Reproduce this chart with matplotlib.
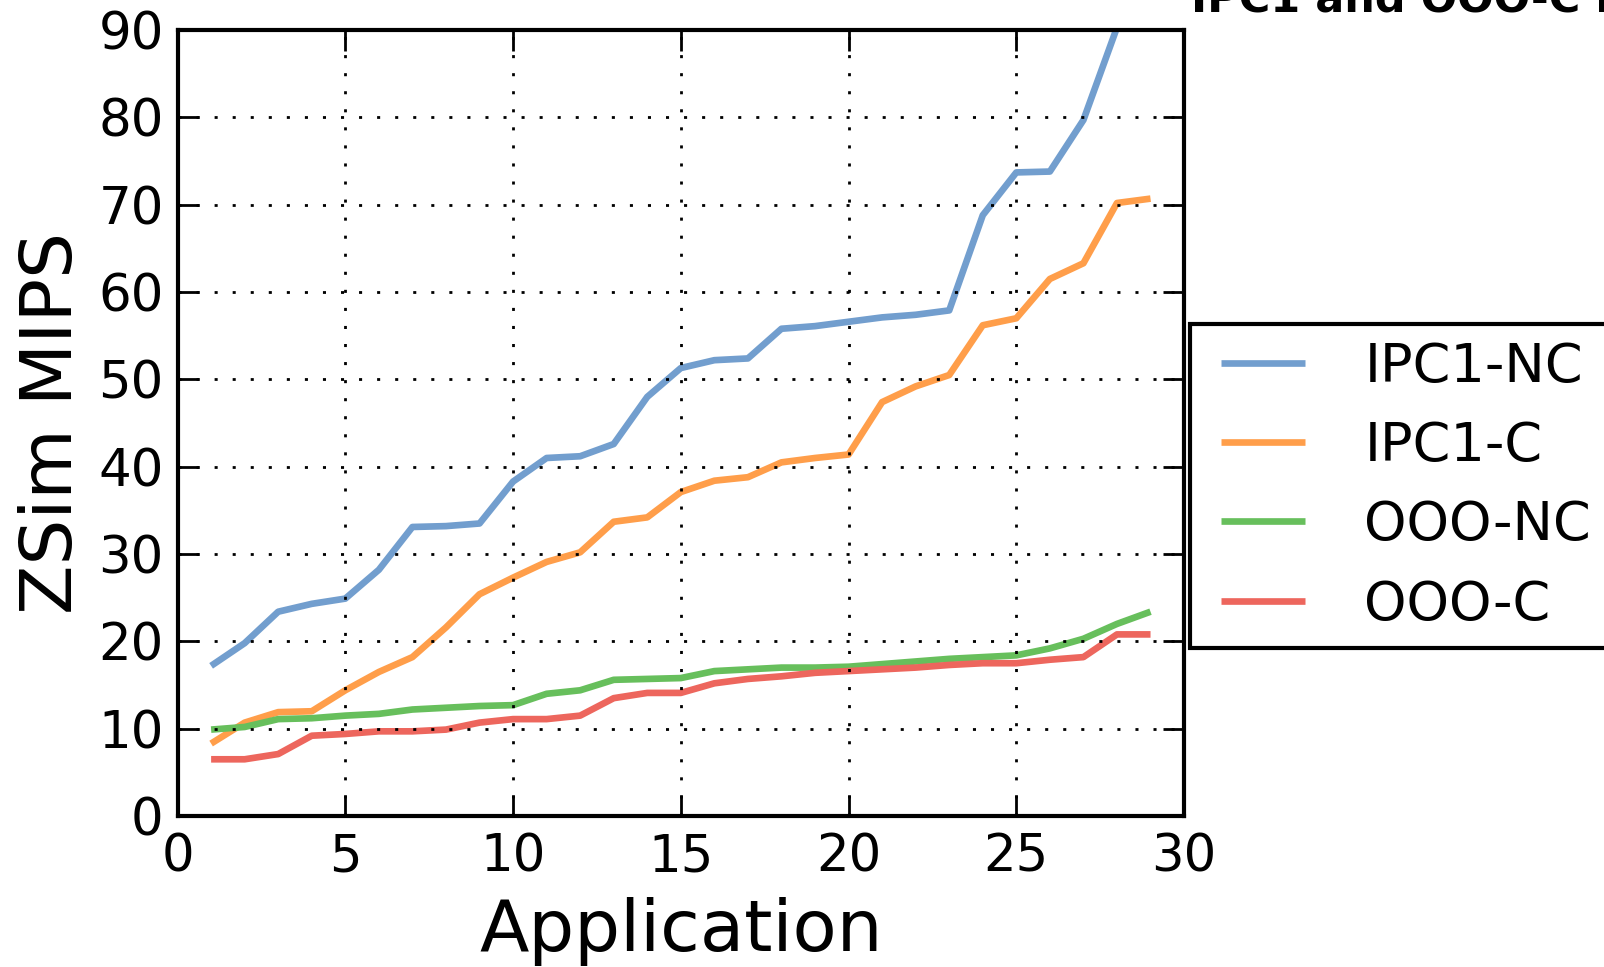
import matplotlib
matplotlib.use("Agg")
import matplotlib.pyplot as plt
from matplotlib.lines import Line2D
from matplotlib.legend_handler import HandlerLine2D

# Application index (sorted by MIPS)
apps = list(range(1, 30))

ipc1_nc = [17.2, 19.8, 23.4, 24.3, 24.9, 28.2, 33.1, 33.2, 33.5, 38.3,
           41.0, 41.2, 42.6, 48.0, 51.3, 52.2, 52.4, 55.8, 56.1, 56.6,
           57.1, 57.4, 57.9, 68.8, 73.7, 73.8, 79.7, 90.3, 98.0]
ipc1_c = [8.3, 10.7, 11.9, 12.0, 14.4, 16.5, 18.2, 21.6, 25.4, 27.3,
          29.1, 30.2, 33.7, 34.2, 37.1, 38.4, 38.8, 40.5, 41.0, 41.4,
          47.4, 49.2, 50.5, 56.2, 57.0, 61.5, 63.3, 70.2, 70.7]
ooo_nc = [9.9, 10.2, 11.1, 11.2, 11.5, 11.7, 12.2, 12.4, 12.6, 12.7,
          14.0, 14.4, 15.6, 15.7, 15.8, 16.6, 16.8, 17.0, 17.0, 17.1,
          17.4, 17.7, 18.0, 18.2, 18.4, 19.2, 20.3, 22.0, 23.4]
ooo_c = [6.5, 6.5, 7.1, 9.2, 9.4, 9.7, 9.7, 9.9, 10.7, 11.1,
         11.1, 11.5, 13.5, 14.1, 14.1, 15.2, 15.7, 16.0, 16.4, 16.6,
         16.8, 17.0, 17.3, 17.5, 17.5, 17.9, 18.2, 20.8, 20.8]

series = [
    ("IPC1-NC", ipc1_nc, "#729ECE"),
    ("IPC1-C", ipc1_c, "#FF9E4A"),
    ("OOO-NC", ooo_nc, "#67BF5C"),
    ("OOO-C", ooo_c, "#ED665D"),
]

xticks = [0, 5, 10, 15, 20, 25, 30]
yticks = [0, 10, 20, 30, 40, 50, 60, 70, 80, 90]

plt.rcParams["font.family"] = ["DejaVu Sans"]

fig = plt.figure(figsize=(16.04, 9.67), dpi=100)
ax = fig.add_axes([0.1107, 0.1561, 0.6275, 0.8128])

for label, vals, color in series:
    ax.plot(apps, vals, color=color, linewidth=4.8, label=label,
            solid_capstyle="butt")

ax.set_xlim(0, 30)
ax.set_ylim(0, 90)
ax.set_xticks(xticks)
ax.set_yticks(yticks)

ax.grid(True, color="black", linestyle=(0, (1.1, 5.4)), linewidth=2)
ax.set_axisbelow(False)

for sp in ax.spines.values():
    sp.set_linewidth(3)
    sp.set_color("black")

ax.tick_params(axis="both", which="major", direction="in", length=15,
               width=2, labelsize=37, top=True, right=True, colors="black")
ax.tick_params(axis="x", pad=12)
ax.tick_params(axis="y", pad=10)

ax.set_xlabel("Application", fontsize=52, labelpad=10)
ax.set_ylabel("ZSim MIPS", fontsize=52, labelpad=8)

leg = fig.legend(loc="upper left", bbox_to_anchor=(0.7419, 0.665),
                 fontsize=39, frameon=True, fancybox=False, framealpha=1,
                 edgecolor="black", handlelength=1.8, handletextpad=1.1,
                 labelspacing=0.5, borderpad=0.32, borderaxespad=0,
                 handler_map={Line2D: HandlerLine2D(xpad=0.26)})
leg.get_frame().set_linewidth(3)

fig.text(1191 / 1604, 1 - 12 / 967, "IPC1 and OOO-C in ZSim", fontsize=31,
         fontweight="bold", ha="left", va="baseline")

fig.savefig("out.png", dpi=100, facecolor="white")
